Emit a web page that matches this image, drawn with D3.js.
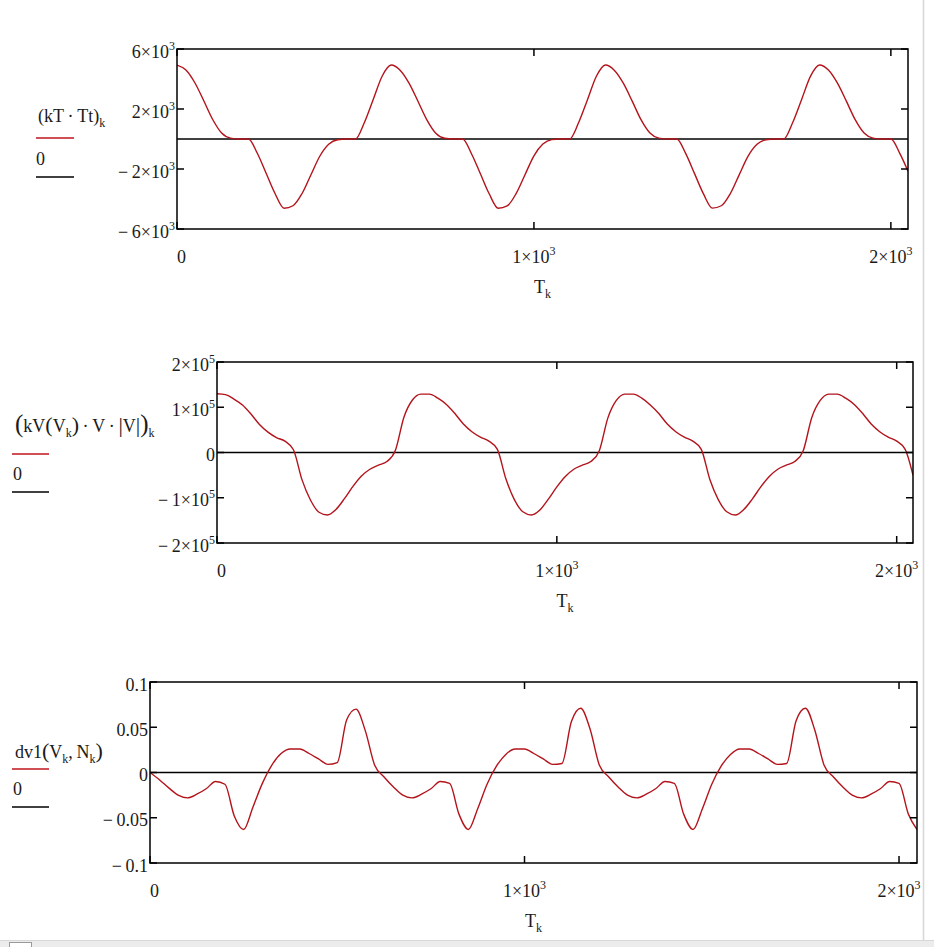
<!DOCTYPE html>
<html lang="en">
<head>
  <meta charset="UTF-8">
  <title>kT·Tt, kV, dv1 vs T</title>
  <script src="https://d3js.org/d3.v7.min.js"></script>
  <style>
    body {margin: 0; background: #fff;}
    svg {display: block; font-family: "Liberation Serif", "Times New Roman", serif;}
    .tick-label {font-size: 18px; fill: #1a1a1a;}
    .legend-text {font-size: 18px; fill: #1a1a1a;}
    .frame {fill: none; stroke: #000; stroke-width: 1.5;}
    .zero-line {stroke: #000; stroke-width: 1.5;}
    .tick {stroke: #000; stroke-width: 1.5;}
    .trace {fill: none; stroke: #b3141c; stroke-width: 1.4;}
  </style>
</head>
<body>
<svg id="chart" width="934" height="947"></svg>
<script>
// sample points T_k
const T = [0, 25, 50, 75, 100, 125, 150, 175, 200, 225, 250, 275, 300, 325, 350, 375, 400, 425, 450, 475, 500, 525, 550, 575,
  600, 625, 650, 675, 700, 725, 750, 775, 800, 825, 850, 875, 900, 925, 950, 975, 1000, 1025, 1050, 1075, 1100, 1125, 1150, 1175,
  1200, 1225, 1250, 1275, 1300, 1325, 1350, 1375, 1400, 1425, 1450, 1475, 1500, 1525, 1550, 1575, 1600, 1625, 1650, 1675, 1700, 1725, 1750, 1775,
  1800, 1825, 1850, 1875, 1900, 1925, 1950, 1975, 2000, 2025, 2048];

// (kT·Tt)_k
const kTTt = [4930, 4600, 3750, 2550, 1300, 400, 60, 0, 0, -950, -2300, -3650, -4620, -4450, -3650, -2400, -1150, -350, -50, 0, 0, 1100, 2650, 4200,
  4930, 4580, 3720, 2520, 1280, 390, 50, 0, 0, -980, -2320, -3670, -4620, -4460, -3640, -2380, -1120, -340, -40, 0, 0, 1080, 2620, 4180,
  4930, 4590, 3740, 2540, 1290, 400, 60, 0, 0, -960, -2310, -3660, -4610, -4450, -3650, -2390, -1140, -350, -50, 0, 0, 1100, 2640, 4190,
  4930, 4600, 3740, 2540, 1290, 400, 60, 0, 0, -960, -2150];

// (kV(V_k)·V·|V|)_k
const kVV = [130000, 128000, 118000, 105000, 85000, 62000, 45000, 33000, 25000, 6000, -60000, -105000, -132000, -138000, -126000, -102000, -75000, -52000, -37000, -28000, -20000, 5000, 78000, 116000,
  129000, 129000, 120000, 106000, 86000, 63000, 46000, 34000, 25000, 7000, -58000, -104000, -131000, -138000, -127000, -103000, -76000, -53000, -37000, -28000, -20000, 4000, 76000, 115000,
  129000, 129000, 120000, 105000, 86000, 63000, 46000, 34000, 25000, 7000, -59000, -104000, -131000, -138000, -126000, -103000, -76000, -53000, -37000, -28000, -20000, 4000, 77000, 115000,
  129000, 129000, 120000, 106000, 86000, 63000, 46000, 34000, 25000, 7000, -50000];

// dv1(V_k, N_k)
const dv1 = [0, -0.008, -0.017, -0.025, -0.028, -0.024, -0.018, -0.010, -0.013, -0.048, -0.063, -0.038, -0.012, 0.008, 0.021, 0.026, 0.026, 0.021, 0.015, 0.009, 0.011, 0.058, 0.070, 0.046,
  0.008, -0.005, -0.016, -0.025, -0.028, -0.024, -0.018, -0.010, -0.012, -0.046, -0.063, -0.040, -0.013, 0.007, 0.020, 0.026, 0.026, 0.021, 0.015, 0.009, 0.010, 0.056, 0.071, 0.048,
  0.008, -0.005, -0.016, -0.025, -0.028, -0.024, -0.018, -0.010, -0.012, -0.046, -0.063, -0.040, -0.013, 0.007, 0.020, 0.026, 0.026, 0.021, 0.015, 0.009, 0.010, 0.057, 0.071, 0.047,
  0.008, -0.005, -0.016, -0.025, -0.028, -0.024, -0.018, -0.010, -0.012, -0.046, -0.063];

const xDomain = [0, 2048];
const xTicks = [0, 1000, 2000];
const yTicks1 = [6000, 2000, -2000, -6000];
const yTicks2 = [200000, 100000, 0, -100000, -200000];
const yTicks3 = [0.1, 0.05, 0, -0.05, -0.1];

const MINUS = "\u2212\u2009";

// mantissa x 10^exp label, Mathcad style
function sciParts(v) {
  if (v === 0) return [{t: "0"}];
  const e = Math.floor(Math.log10(Math.abs(v)) + 1e-9);
  const m = Math.round(Math.abs(v) / Math.pow(10, e));
  return [{t: (v < 0 ? MINUS : "") + m + "\u00d710"}, {t: String(e), sup: true}];
}
function plainParts(v) {
  if (v === 0) return [{t: "0"}];
  return [{t: (v < 0 ? MINUS : "") + String(Math.abs(v))}];
}

// writes parts (with sub/sup) into a text element as one chunk
function rich(sel, parts) {
  let shift = 0;
  parts.forEach(p => {
    const want = p.sub ? 5 : p.sup ? -8 : 0;
    sel.append("tspan")
      .attr("dy", want - shift)
      .style("font-size", p.size ? p.size + "px" : (p.sub || p.sup) ? "12px" : null)
      .text(p.t);
    shift = want;
  });
}

const panels = [
  {
    id: "p1", left: 177, right: 908, top: 49, bottom: 229,
    yDomain: [-6000, 6000], yTicks: yTicks1, fmt: sciParts, values: kTTt,
    legend: {x: 38, y: 122, lx1: 36, lx2: 74, redY: 138, zeroY: 165, blackY: 177,
      parts: [{t: "(kT\u2009\u00b7\u2009Tt)"}, {t: "k", sub: true}]}
  },
  {
    id: "p2", left: 217, right: 913, top: 362, bottom: 543,
    yDomain: [-200000, 200000], yTicks: yTicks2, fmt: sciParts, values: kVV,
    legend: {x: 15, y: 432, lx1: 12, lx2: 49, redY: 454, zeroY: 480, blackY: 492,
      parts: [{t: "(", size: 25}, {t: "kV"}, {t: "(", size: 22}, {t: "V"}, {t: "k", sub: true},
        {t: ")", size: 22}, {t: "\u2009\u00b7\u2009V\u2009\u00b7\u2009"}, {t: "|", size: 22}, {t: "V"}, {t: "|", size: 22},
        {t: ")", size: 25}, {t: "k", sub: true}]}
  },
  {
    id: "p3", left: 150, right: 917, top: 682, bottom: 863,
    yDomain: [-0.1, 0.1], yTicks: yTicks3, fmt: plainParts, values: dv1,
    legend: {x: 15, y: 758, lx1: 12, lx2: 49, redY: 769, zeroY: 795, blackY: 807,
      parts: [{t: "dv1"}, {t: "(", size: 22}, {t: "V"}, {t: "k", sub: true}, {t: ",\u2009N"}, {t: "k", sub: true}, {t: ")", size: 22}]}
  }
];

const svg = d3.select("#chart");

// window chrome: right edge line and bottom bar
svg.append("line").attr("x1", 923.5).attr("x2", 923.5).attr("y1", 0).attr("y2", 940)
  .attr("stroke", "#d6d6d6").attr("stroke-width", 1.5);
svg.append("rect").attr("x", 0).attr("y", 940).attr("width", 934).attr("height", 7).attr("fill", "#ececec");
svg.append("line").attr("x1", 0).attr("x2", 934).attr("y1", 940.5).attr("y2", 940.5).attr("stroke", "#d8d8d8");
svg.append("rect").attr("x", 9.5).attr("y", 942.5).attr("width", 22).attr("height", 10)
  .attr("fill", "#fff").attr("stroke", "#9a9a9a");

panels.forEach(p => {
  const x = d3.scaleLinear().domain(xDomain).range([p.left, p.right]);
  const y = d3.scaleLinear().domain(p.yDomain).range([p.bottom, p.top]);
  const g = svg.append("g");

  g.append("clipPath").attr("id", "clip-" + p.id)
    .append("rect").attr("x", p.left).attr("y", p.top)
    .attr("width", p.right - p.left).attr("height", p.bottom - p.top);

  // zero line
  g.append("line").attr("class", "zero-line")
    .attr("x1", p.left).attr("x2", p.right).attr("y1", y(0)).attr("y2", y(0));

  // trace
  const line = d3.line().x((d, i) => x(T[i])).y(d => y(d)).curve(d3.curveMonotoneX);
  g.append("path").attr("class", "trace").attr("clip-path", `url(#clip-${p.id})`)
    .attr("d", line(p.values));

  // frame
  g.append("rect").attr("class", "frame")
    .attr("x", p.left).attr("y", p.top).attr("width", p.right - p.left).attr("height", p.bottom - p.top);

  // inner ticks
  const tl = 7;
  p.yTicks.forEach(v => {
    g.append("line").attr("class", "tick").attr("x1", p.left).attr("x2", p.left + tl).attr("y1", y(v)).attr("y2", y(v));
    g.append("line").attr("class", "tick").attr("x1", p.right - tl).attr("x2", p.right).attr("y1", y(v)).attr("y2", y(v));
    const t = g.append("text").attr("class", "tick-label")
      .attr("x", p.left - 2).attr("y", y(v) + 8.5).attr("text-anchor", "end");
    rich(t, p.fmt(v));
  });
  xTicks.forEach(v => {
    g.append("line").attr("class", "tick").attr("x1", x(v)).attr("x2", x(v)).attr("y1", p.top).attr("y2", p.top + tl);
    g.append("line").attr("class", "tick").attr("x1", x(v)).attr("x2", x(v)).attr("y1", p.bottom - tl).attr("y2", p.bottom);
    const t = g.append("text").attr("class", "tick-label")
      .attr("x", x(v)).attr("y", p.bottom + 34).attr("text-anchor", v === 0 ? "start" : "middle");
    rich(t, sciParts(v));
  });

  // axis title T_k
  const tt = g.append("text").attr("class", "tick-label")
    .attr("x", (p.left + p.right) / 2).attr("y", p.bottom + 64).attr("text-anchor", "middle");
  rich(tt, [{t: "T"}, {t: "k", sub: true}]);

  // legend
  const L = p.legend;
  rich(g.append("text").attr("class", "legend-text").attr("x", L.x).attr("y", L.y), L.parts);
  g.append("line").attr("x1", L.lx1).attr("x2", L.lx2).attr("y1", L.redY).attr("y2", L.redY)
    .attr("stroke", "#c0141c").attr("stroke-width", 1.5);
  g.append("text").attr("class", "legend-text").attr("x", L.x - 2).attr("y", L.zeroY).text("0");
  g.append("line").attr("x1", L.lx1).attr("x2", L.lx2).attr("y1", L.blackY).attr("y2", L.blackY)
    .attr("stroke", "#000").attr("stroke-width", 1.5);
});
</script>
</body>
</html>
